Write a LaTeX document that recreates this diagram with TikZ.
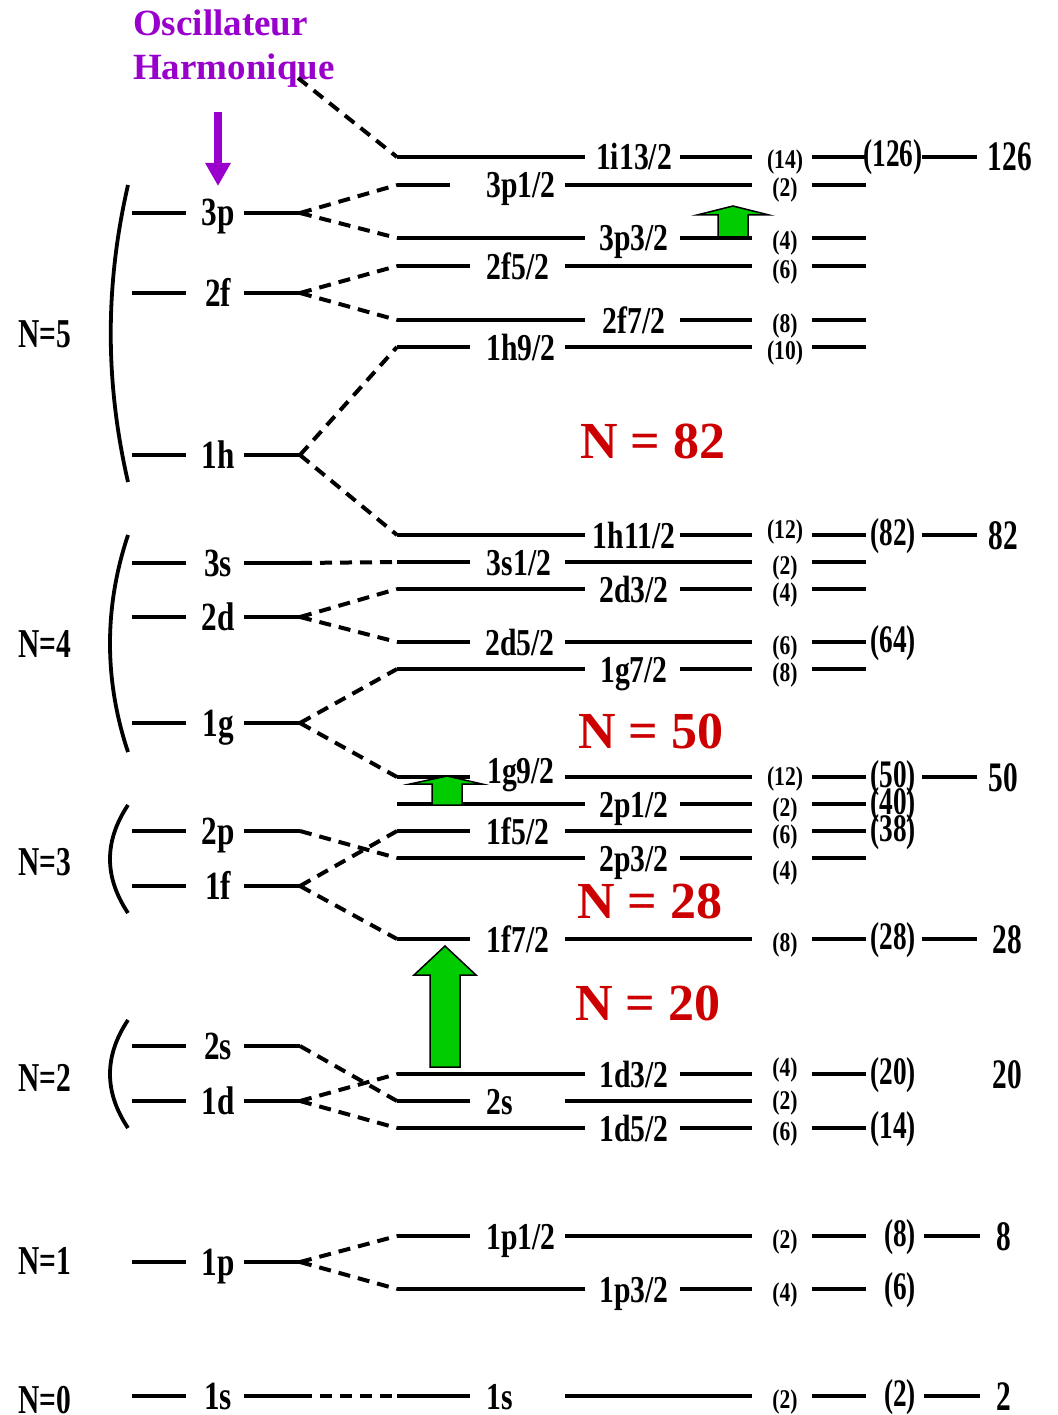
\documentclass[tikz,border=0pt]{standalone}
\usepackage{fontspec}
\setmainfont{Liberation Serif}
\newfontfamily\cndlab[FakeStretch=0.78]{Liberation Serif Bold}
\newfontfamily\cnddeg[FakeStretch=0.8]{Liberation Serif Bold}
\newfontfamily\cndcum[FakeStretch=0.7]{Liberation Serif Bold}
\newfontfamily\cndN[FakeStretch=0.72]{Liberation Serif Bold}
\usetikzlibrary{arrows.meta}
\definecolor{ohpurple}{RGB}{153,0,204}
\definecolor{magicred}{RGB}{204,0,0}
\definecolor{arrgreen}{RGB}{0,204,0}
\tikzset{
 lvl/.style={line width=4.5pt},
 dsh/.style={line width=4pt, dash pattern=on 12pt off 8pt},
 brk/.style={line width=3.8pt},
 holab/.style={anchor=base, inner sep=0pt, font=\cndlab\fontsize{40}{40}\selectfont},
 splab/.style={anchor=base, inner sep=0pt, font=\cndlab\fontsize{38}{38}\selectfont},
 deglab/.style={anchor=base, inner sep=0pt, font=\cnddeg\fontsize{27}{27}\selectfont},
 cumlab/.style={anchor=base, inner sep=0pt, font=\cndcum\fontsize{39}{39}\selectfont},
 finlab/.style={anchor=base, inner sep=0pt, font=\cndcum\fontsize{42}{42}\selectfont},
 nlab/.style={anchor=base, inner sep=0pt, font=\cndN\fontsize{41}{41}\selectfont},
 magic/.style={anchor=base west, inner sep=0pt, text=magicred, font=\bfseries\fontsize{52}{52}\selectfont},
 ohlab/.style={anchor=base west, inner sep=0pt, text=ohpurple, font=\bfseries\fontsize{37}{37}\selectfont},
 garrow/.style={fill=arrgreen, draw=black, line width=1.5pt, line join=miter},
}
% HO level: name, y, label
\newcommand{\horow}[3]{%
  \draw[lvl] (132,#2) -- (186,#2);
  \node[holab] (#1t) at (218,{#2+13}) {#3};
  \draw[lvl] (244,#2) -- (300,#2);
  \coordinate (#1) at (300,#2);
}
% split level, long left line: name, y, label, degeneracy, deg dy
\newcommand{\rowA}[5]{%
  \coordinate (#1) at (397,#2);
  \draw[lvl] (#1) -- (585,#2);
  \node[splab] (#1t) at (634,{#2+13}) {#3};
  \draw[lvl] (680,#2) -- (752,#2);
  \node[deglab] (#1g) at (785,{#2+12+#5}) {#4};
}
% split level, short left line: name, y, label, degeneracy, deg dy, left end, label x, label dy
\newcommand{\rowB}[8]{%
  \coordinate (#1) at (397,#2);
  \draw[lvl] (#1) -- (#6,#2);
  \node[splab] (#1t) at (#7,{#2+13+#8}) {#3};
  \draw[lvl] (565,#2) -- (752,#2);
  \node[deglab] (#1g) at (785,{#2+12+#5}) {#4};
}
\newcommand{\rline}[1]{\draw[lvl] (812,#1) -- (866,#1);}
\newcommand{\cumlbl}[4]{\node[cumlab] (#1) at (#4,{#2+10}) {#3};}
\newcommand{\finlbl}[4]{\node[finlab] (#1) at (#4,{#2+14}) {#3};}
\begin{document}
\begin{tikzpicture}[x=1pt,y=-1pt]
\useasboundingbox (0,0) rectangle (1057,1415);
\fill[white] (0,0) rectangle (1057,1415);

% Title
\node[ohlab] (oh1) at (133,36) {Oscillateur};
\node[ohlab] (oh2) at (133,80) {Harmonique};
\coordinate (ohtail) at (218,112);
\coordinate (ohtip) at (218,186);
\draw[line width=8pt, ohpurple, -{Triangle[width=24pt,length=23pt]}] (ohtail) -- (ohtip);
\coordinate (ohq) at (298,78);

% N labels
\node[nlab] (n5) at (45,347) {N=5};
\node[nlab] (n4) at (45,657) {N=4};
\node[nlab] (n3) at (45,875) {N=3};
\node[nlab] (n2) at (45,1091) {N=2};
\node[nlab] (n1) at (45,1274) {N=1};
\node[nlab] (n0) at (45,1413) {N=0};

% brackets
\draw[brk] (128,185) .. controls (105,285) and (105,382) .. (128,482);
\draw[brk] (128,535) .. controls (104,607) and (104,680) .. (128,752);
\draw[brk] (128,805) .. controls (104,841) and (104,877) .. (128,913);
\draw[brk] (128,1020) .. controls (104,1056) and (104,1092) .. (128,1128);

% harmonic oscillator levels
\horow{h3p}{213}{3p}
\horow{h2f}{293}{2f}
\horow{h1h}{455}{1h}
\horow{h3s}{563}{3s}
\horow{h2d}{617}{2d}
\horow{h1g}{723}{1g}
\horow{h2p}{831}{2p}
\horow{h1f}{886}{1f}
\horow{h2s}{1046}{2s}
\horow{h1d}{1101}{1d}
\horow{h1p}{1262}{1p}
\horow{h1s}{1396}{1s}

% split levels
\rowA{s1i}{157}{1i13/2}{(14)}{0}
\rowB{s3p1}{185}{3p1/2}{(2)}{0}{450}{521}{0}
\rowA{s3p3}{238}{3p3/2}{(4)}{0}
\rowB{s2f5}{266}{2f5/2}{(6)}{0}{470}{518}{0}
\rowA{s2f7}{320}{2f7/2}{(8)}{0}
\rowB{s1h9}{347}{1h9/2}{(10)}{0}{470}{521}{0}
\rowA{s1h11}{535}{1h11/2}{(12)}{-9}
\rowB{s3s}{562}{3s1/2}{(2)}{0}{470}{519}{0}
\rowA{s2d3}{589}{2d3/2}{(4)}{0}
\rowB{s2d5}{642}{2d5/2}{(6)}{0}{470}{520}{0}
\rowA{s1g7}{669}{1g7/2}{(8)}{0}
\rowB{s1g9}{777}{1g9/2}{(12)}{-4}{470}{521}{-7}
\rowA{s2p1}{804}{2p1/2}{(2)}{0}
\rowB{s1f5}{831}{1f5/2}{(6)}{0}{470}{518}{0}
\rowA{s2p3}{858}{2p3/2}{(4)}{9}
\rowB{s1f7}{939}{1f7/2}{(8)}{0}{470}{518}{0}
\rowA{s1d3}{1074}{1d3/2}{(4)}{-10}
\rowB{s2s}{1101}{2s}{(2)}{-4}{470}{500}{0}
\rowA{s1d5}{1128}{1d5/2}{(6)}{0}
\rowB{s1p1}{1236}{1p1/2}{(2)}{0}{470}{521}{0}
\rowA{s1p3}{1289}{1p3/2}{(4)}{0}
\rowB{s1s}{1396}{1s}{(2)}{0}{470}{500}{0}

% right-hand short lines
\foreach \yy in {157,185,238,266,320,347,535,562,589,642,669,777,804,831,858,939,1074,1128,1236,1289,1396} {\rline{\yy}}

% cumulative numbers
\cumlbl{c126}{157}{(126)}{893}
\draw[lvl] (922,157) -- (977,157);
\finlbl{f126}{157}{126}{1010}
\cumlbl{c82}{535}{(82)}{893}
\draw[lvl] (922,535) -- (977,535);
\finlbl{f82}{535}{82}{1003}
\cumlbl{c64}{642}{(64)}{893}
\cumlbl{c50}{777}{(50)}{893}
\draw[lvl] (922,777) -- (977,777);
\finlbl{f50}{777}{50}{1003}
\cumlbl{c40}{804}{(40)}{893}
\cumlbl{c38}{831}{(38)}{893}
\cumlbl{c28}{939}{(28)}{893}
\draw[lvl] (922,939) -- (977,939);
\finlbl{f28}{939}{28}{1007}
\cumlbl{c20}{1074}{(20)}{893}
\finlbl{f20}{1074}{20}{1007}
\cumlbl{c14}{1128}{(14)}{893}
\cumlbl{c8}{1236}{(8)}{900}
\draw[lvl] (924,1236) -- (980,1236);
\finlbl{f8}{1236}{8}{1004}
\cumlbl{c6}{1289}{(6)}{900}
\cumlbl{c2}{1396}{(2)}{900}
\draw[lvl] (924,1396) -- (980,1396);
\finlbl{f2}{1396}{2}{1004}

% dashed connectors
\draw[dsh] (ohq) -- (s1i);
\draw[dsh] (h3p) -- (s3p1);
\draw[dsh] (h3p) -- (s3p3);
\draw[dsh] (h2f) -- (s2f5);
\draw[dsh] (h2f) -- (s2f7);
\draw[dsh] (h1h) -- (s1h9);
\draw[dsh] (h1h) -- (s1h11);
\draw[dsh] (h3s) -- (s3s);
\draw[dsh] (h2d) -- (s2d3);
\draw[dsh] (h2d) -- (s2d5);
\draw[dsh] (h1g) -- (s1g7);
\draw[dsh] (h1g) -- (s1g9);
\draw[dsh] (h2p) -- (s2p3);
\draw[dsh] (h1f) -- (s1f5);
\draw[dsh] (h1f) -- (s1f7);
\draw[dsh] (h2s) -- (s2s);
\draw[dsh] (h1d) -- (s1d3);
\draw[dsh] (h1d) -- (s1d5);
\draw[dsh] (h1p) -- (s1p1);
\draw[dsh] (h1p) -- (s1p3);
\draw[dsh] (h1s) -- (s1s);

% magic numbers
\node[magic] (m82) at (580,458) {N = 82};
\node[magic] (m50) at (578,748) {N = 50};
\node[magic] (m28) at (577,918) {N = 28};
\node[magic] (m20) at (575,1020) {N = 20};

% green block arrows
\filldraw[garrow] (430,1067) -- (430,975) -- (414,975) -- (445,946) -- (476,975) -- (460,975) -- (460,1067) -- cycle;
\filldraw[garrow] (432,805) -- (432,784) -- (410,784) -- (447,776) -- (482,784) -- (462,784) -- (462,805) -- cycle;
\filldraw[garrow] (718,237) -- (718,215) -- (697,215) -- (733,206) -- (769,215) -- (748,215) -- (748,237) -- cycle;
\end{tikzpicture}
\end{document}
